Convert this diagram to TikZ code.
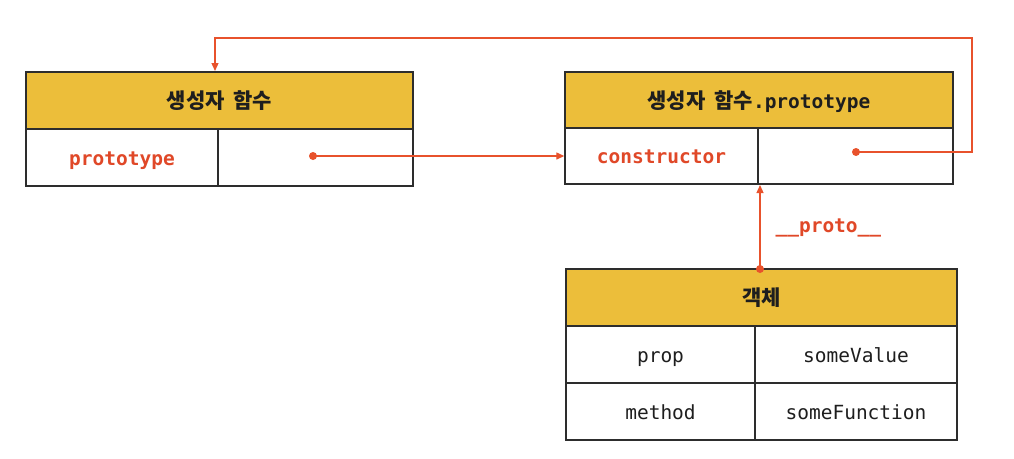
\documentclass[tikz,border=0pt]{standalone}
\usepackage{fontspec}
\newfontfamily\kr{Noto Sans CJK KR}
\newfontfamily\mono{DejaVu Sans Mono}
\newfontfamily\monob{DejaVu Sans Mono Bold}
\usetikzlibrary{arrows.meta}
\definecolor{gold}{RGB}{236,190,58}
\definecolor{lineor}{RGB}{232,82,44}
\definecolor{txtred}{RGB}{224,72,40}
\definecolor{boxline}{RGB}{45,45,45}
\definecolor{txtdark}{RGB}{30,30,30}
\tikzset{
  cell/.style={draw=boxline, line width=1.4pt, inner sep=0pt, fill=white, font=\mono\fontsize{19.5}{22}\selectfont, text=txtdark, text height=19pt, text depth=4pt},
  headcell/.style={cell, fill=gold, font=\kr\bfseries\fontsize{21}{24}\selectfont, text height=18.5pt, text depth=2.5pt},
  keycell/.style={cell, text=txtred, font=\monob\fontsize{19.5}{22}\selectfont},
  link/.style={draw=lineor, line width=1.3pt, -{Triangle[length=8pt,width=7pt]}},
  dotmark/.style={circle, fill=lineor, inner sep=0pt, minimum size=8pt}
}
\begin{document}
\begin{tikzpicture}[x=1pt,y=-1pt]
\useasboundingbox (0,0) rectangle (1014,458);
% left box
\node[headcell, minimum width=387pt, minimum height=57pt] (lhead) at (219.5,100.5) {생성자\hspace{4pt} 함수};
\node[keycell, minimum width=192pt, minimum height=57pt] (lkey) at (122,157.5) {prototype};
\node[cell, minimum width=195pt, minimum height=57pt] (lval) at (315.5,157.5) {};
% right box
\node[headcell, minimum width=388pt, minimum height=56pt] (rhead) at (759,100) {생성자\hspace{4pt} 함수{\monob\fontsize{19.5}{22}\selectfont .prototype}};
\node[keycell, minimum width=193pt, minimum height=56pt] (rkey) at (661.5,156) {constructor};
\node[cell, minimum width=195pt, minimum height=56pt] (rval) at (855.5,156) {};
% object box
\node[headcell, minimum width=391pt, minimum height=57pt] (ohead) at (761.5,297.5) {객체};
\node[cell, minimum width=189pt, minimum height=57pt] (p1) at (660.5,354.5) {prop};
\node[cell, minimum width=202pt, minimum height=57pt] (v1) at (856,354.5) {someValue};
\node[cell, minimum width=189pt, minimum height=57pt] (p2) at (660.5,411.5) {method};
\node[cell, minimum width=202pt, minimum height=57pt] (v2) at (856,411.5) {someFunction};
% connectors
\node[dotmark] (d1) at (313,156) {};
\node[dotmark] (d2) at (856,152) {};
\node[dotmark] (d3) at (760,269) {};
\path[link] (d1.center) -- (rkey.west);
\path[link] (d2.center) -- (972,152) -- (972,38) -- (215,38) -- (215,71);
\path[link] (d3.center) -- (760,185);
\node[text=txtred, font=\monob\fontsize{19.5}{22}\selectfont, anchor=west] (plab) at (772,228) {\_\_proto\_\_};
\end{tikzpicture}
\end{document}
